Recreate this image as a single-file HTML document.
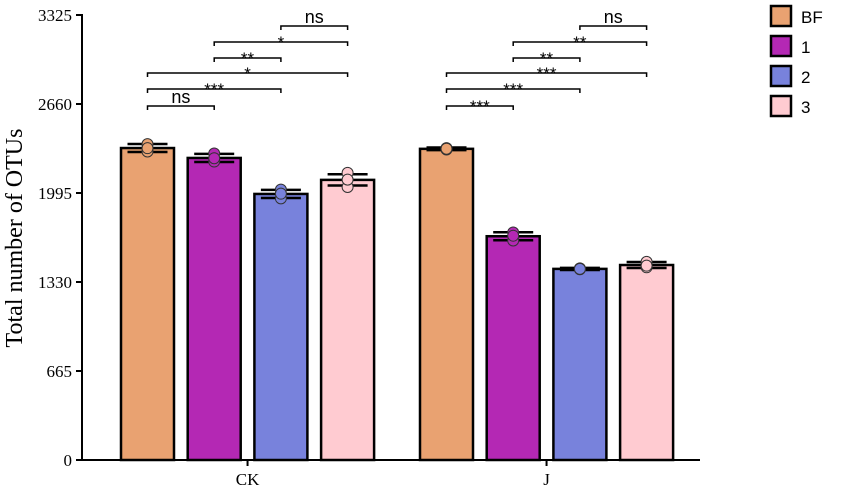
<!DOCTYPE html>
<html><head><meta charset="utf-8"><style>
body{margin:0;background:#fff}
svg text{font-family:"Liberation Serif",serif}
svg text.sans{font-family:"Liberation Sans",sans-serif}
</style></head><body>
<svg id="c" width="851" height="492"></svg>
<script>
const groups=["CK","J"];
const series=["BF","1","2","3"];
const colors=["#E9A271","#B428B4","#7882DC","#FFCBD1"];
const means=[[2331,2257,1988,2093],[2325,1672,1428,1457]];
const sds=[[30,30,30,42],[10,30,8,22]];
const points=[[[2360,2305,2330],[2290,2230,2255],[1955,2020,1990],[2040,2145,2095]],[[2330,2320,2326],[1640,1700,1676],[1425,1432,1428],[1440,1480,1452]]];
const yTicks=[0,665,1330,1995,2660,3325];
const sig=[[[0,1,"ns"],[0,2,"***"],[0,3,"*"],[1,2,"**"],[1,3,"*"],[2,3,"ns"]],[[0,1,"***"],[0,2,"***"],[0,3,"***"],[1,2,"**"],[1,3,"**"],[2,3,"ns"]]];
const sigY=[106,89,73,58,42,26];
const svg=document.getElementById('c');const NS="http://www.w3.org/2000/svg";
function mk(t,a,p){const e=document.createElementNS(NS,t);for(const k in a)e.setAttribute(k,a[k]);(p||svg).appendChild(e);return e;}
const y0=460,y1=15,ymax=3325;
const y=v=>y0-(v/ymax)*(y0-y1);
const gx=[121,420],bw=53,step=66.7;
const x=(g,s)=>gx[g]+s*step;
let ax=mk('line',{x1:82,y1:14,x2:82,y2:461,stroke:'#000','stroke-width':2});

let xa=mk('line',{x1:81,y1:460,x2:700,y2:460,stroke:'#000','stroke-width':2});

yTicks.forEach(t=>{mk('line',{x1:76,x2:82,y1:y(t),y2:y(t),stroke:'#000','stroke-width':2});
 const tx=mk('text',{x:72,y:y(t)+6,'text-anchor':'end','font-size':17});tx.textContent=t;
 });
const yt=mk('text',{x:0,y:0,'font-size':24,'text-anchor':'middle',transform:'translate(22,238) rotate(-90)'});
yt.textContent='Total number of OTUs';
groups.forEach((g,gi)=>{
 const cx=x(gi,1.5)+bw/2;
 mk('line',{x1:cx,x2:cx,y1:460,y2:466,stroke:'#000','stroke-width':2});
 const gl=mk('text',{x:cx,y:485,'text-anchor':'middle','font-size':17});gl.textContent=g;
 
 series.forEach((s,si)=>{
  const v=means[gi][si],bx=x(gi,si);
  const r=mk('rect',{x:bx,y:y(v),width:bw,height:y0-y(v),fill:colors[si],stroke:'#000','stroke-width':2.5});
  
  const c=bx+bw/2,sd=sds[gi][si];
  mk('line',{x1:c,x2:c,y1:y(v+sd),y2:y(v-sd),stroke:'#000','stroke-width':2});
  mk('line',{x1:c-20,x2:c+20,y1:y(v+sd),y2:y(v+sd),stroke:'#000','stroke-width':2.5});
  mk('line',{x1:c-20,x2:c+20,y1:y(v-sd),y2:y(v-sd),stroke:'#000','stroke-width':2.5});
  points[gi][si].forEach(p=>{const d=mk('circle',{cx:c,cy:y(p),r:5.5,fill:colors[si],stroke:'#333','stroke-width':1});
   });
 });
 sig[gi].forEach((q,i)=>{
  const a=x(gi,q[0])+bw/2,b=x(gi,q[1])+bw/2,yy=sigY[i];
  const p=mk('path',{d:`M${a},${yy+4}V${yy}H${b}V${yy+4}`,fill:'none',stroke:'#000','stroke-width':1.5});
  
  const t=mk('text',{x:(a+b)/2,y:q[2]=='ns'?yy-3:yy+6,'text-anchor':'middle','font-size':q[2]=='ns'?18:17,'class':'sans'});
  t.textContent=q[2];
 });
});
series.forEach((s,i)=>{const yy=4+i*30;
 const r=mk('rect',{x:771,y:yy+2,width:20,height:20,fill:colors[i],stroke:'#000','stroke-width':2.5});
 
 const t=mk('text',{x:801,y:yy+19,'font-size':17,'class':'sans'});t.textContent=s;
 });
</script>
</body></html>
